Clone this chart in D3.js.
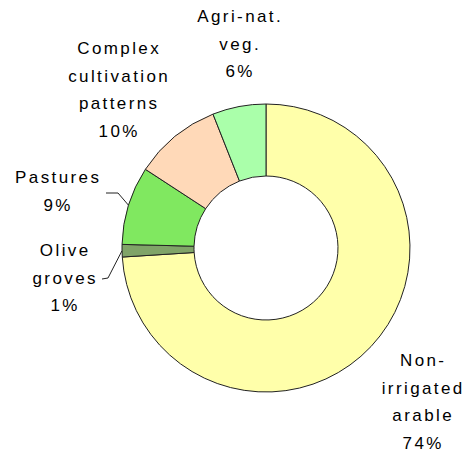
<!DOCTYPE html>
<html><head><meta charset="utf-8">
<script src="https://cdn.jsdelivr.net/npm/d3@7"></script>
<style>body{margin:0;background:#fff;}svg{display:block;}</style>
</head><body>
<script>
const categories = ["Non-irrigated arable", "Olive groves", "Pastures", "Complex cultivation patterns", "Agri-nat. veg."];
const values = [74.0, 1.4, 8.8, 9.8, 6.0];
const pctLabels = ["74%", "1%", "9%", "10%", "6%"];
const labelLines = [["Non-", "irrigated", "arable"], ["Olive", "groves"], ["Pastures"], ["Complex", "cultivation", "patterns"], ["Agri-nat.", "veg."]];
const colors = ["#FFFFAA", "#80A468", "#80E860", "#FFD9B8", "#AAFFAA"];

const W = 464, H = 455, cx = 266, cy = 248, R = 144, r = 72;
const svg = d3.select("body").append("svg").attr("width", W).attr("height", H);
const g = svg.append("g").attr("transform", `translate(${cx},${cy})`);

const pie = d3.pie().sort(null).value(d => d)(values);
const arc = d3.arc().innerRadius(r).outerRadius(R);
g.selectAll("path").data(pie).enter().append("path")
  .attr("d", arc).attr("fill", (d, i) => colors[i])
  .attr("stroke", "#222").attr("stroke-width", 1);

// label positions (center x, first baseline y)
const labelPos = [[422, 366], [64, 256], [57, 183], [118, 54], [239, 22]];
const lineH = 27.5, ls = 2.4;
labelPos.forEach((p, i) => {
  const lines = labelLines[i].concat([pctLabels[i]]);
  const t = svg.append("text").attr("text-anchor", "middle")
    .attr("font-family", "Liberation Sans, Arial, sans-serif")
    .attr("font-size", 17).attr("letter-spacing", ls).attr("fill", "#000");
  lines.forEach((l, j) => t.append("tspan").attr("x", p[0] + ls / 2).attr("y", p[1] + j * lineH).text(l));
});

// leader lines for Olive groves and Pastures
const leaders = [{i: 2, pts: [[106, 193], [118, 193]]}, {i: 1, pts: [[102, 279], [108, 278]]}];
leaders.forEach(L => {
  const d = pie[L.i];
  const a = (d.startAngle + d.endAngle) / 2;
  const ex = cx + R * Math.sin(a), ey = cy - R * Math.cos(a);
  const pts = L.pts.concat([[ex, ey]]);
  svg.append("path").attr("d", d3.line()(pts)).attr("fill", "none").attr("stroke", "#222").attr("stroke-width", 1);
});
</script>
</body></html>
